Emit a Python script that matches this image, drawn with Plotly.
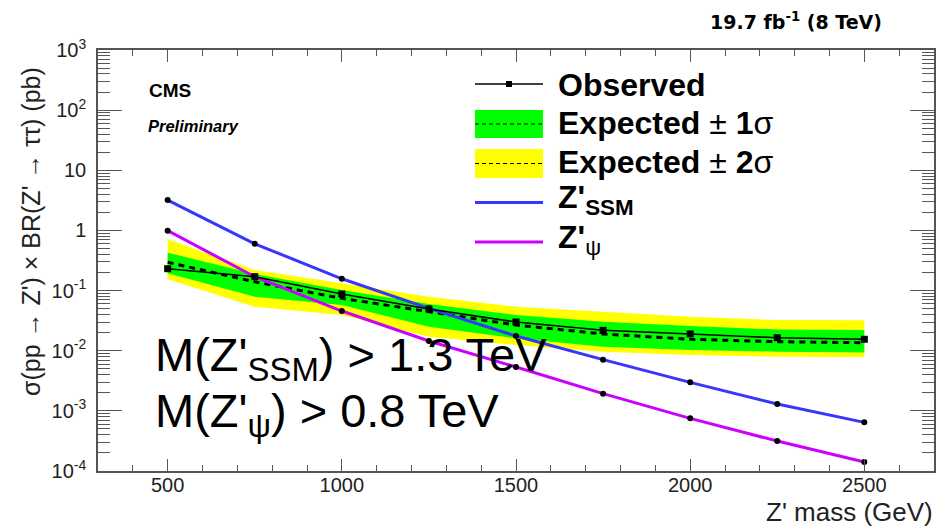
import plotly.graph_objects as go

# ---------------- data ----------------
mass = [500, 750, 1000, 1250, 1500, 1750, 2000, 2250, 2500]
observed = [0.231, 0.17, 0.0877, 0.0493, 0.030, 0.0218, 0.019, 0.01645, 0.0155]
expected = [0.295, 0.140, 0.0743, 0.0446, 0.0267, 0.019, 0.0155, 0.0141, 0.0136]
exp_p1 = [0.427, 0.188, 0.102, 0.0598, 0.0393, 0.0303, 0.0258, 0.0226, 0.0221]
exp_m1 = [0.194, 0.079, 0.0575, 0.0251, 0.0161, 0.01166, 0.0103, 0.00964, 0.0093]
exp_p2 = [0.71, 0.22, 0.132, 0.079, 0.054, 0.0446, 0.0368, 0.0324, 0.032]
exp_m2 = [0.154, 0.054, 0.0393, 0.0171, 0.0124, 0.00964, 0.0085, 0.00794, 0.0078]
z_ssm = [3.2, 0.60, 0.157, 0.0507, 0.01755, 0.0071, 0.00298, 0.0013, 0.000644]
z_psi = [0.99, 0.17, 0.0457, 0.0145, 0.00536, 0.00193, 0.00075, 0.000315, 0.000141]

x_major = [500, 1000, 1500, 2000, 2500]
x_minor = list(range(400, 2700, 100))
y_major = [1e-4, 1e-3, 1e-2, 1e-1, 1, 10, 1e2, 1e3]
y_major_text = ["10<sup>-4</sup>", "10<sup>-3</sup>", "10<sup>-2</sup>", "10<sup>-1</sup>",
                "1", "10", "10<sup>2</sup>", "10<sup>3</sup>"]
y_minor = [m * 10.0 ** e for e in range(-4, 3) for m in range(2, 10)]

legend_labels = ["<b>Observed</b>",
                 "<b>Expected</b> \u00b1 <b>1</b>\u03c3",
                 "<b>Expected</b> \u00b1 <b>2</b>\u03c3",
                 "<b>Z'<sub>SSM</sub></b>",
                 "<b>Z'</b><sub>\u03c8</sub>"]

FONT = "Liberation Sans, Arial, sans-serif"
BLUE = "#3636ff"
MAGENTA = "#cc00ff"
GREEN = "#00ff00"
YELLOW = "#ffff00"

W, H = 951, 530
L, R, T, B = 98, 17, 50, 59
PW, PH = W - L - R, H - T - B


def px(x):
    return (x - L) / PW


def py(y):
    return (H - B - y) / PH


fig = go.Figure()

# yellow band
fig.add_trace(go.Scatter(x=mass, y=exp_p2, mode="lines", line=dict(width=0, color=YELLOW),
                         showlegend=False, hoverinfo="skip"))
fig.add_trace(go.Scatter(x=mass, y=exp_m2, mode="lines", line=dict(width=0, color=YELLOW),
                         fill="tonexty", fillcolor=YELLOW, showlegend=False, hoverinfo="skip"))
# green band
fig.add_trace(go.Scatter(x=mass, y=exp_p1, mode="lines", line=dict(width=0, color=GREEN),
                         showlegend=False, hoverinfo="skip"))
fig.add_trace(go.Scatter(x=mass, y=exp_m1, mode="lines", line=dict(width=0, color=GREEN),
                         fill="tonexty", fillcolor=GREEN, showlegend=False, hoverinfo="skip"))
# expected
fig.add_trace(go.Scatter(x=mass, y=expected, mode="lines",
                         line=dict(color="black", width=3, dash="6px,5px"), showlegend=False))
# models
fig.add_trace(go.Scatter(x=mass, y=z_ssm, mode="lines+markers",
                         line=dict(color=BLUE, width=3),
                         marker=dict(color="black", size=6, symbol="circle"), showlegend=False))
fig.add_trace(go.Scatter(x=mass, y=z_psi, mode="lines+markers",
                         line=dict(color=MAGENTA, width=3),
                         marker=dict(color="black", size=6, symbol="circle"), showlegend=False))
# observed
fig.add_trace(go.Scatter(x=mass, y=observed, mode="lines+markers",
                         line=dict(color="black", width=1.5),
                         marker=dict(color="black", size=7, symbol="square"), showlegend=False))

shapes = []
annotations = []

# ---------------- manual legend ----------------
lx0, lx1, ltext = 475, 543, 556
# Observed
shapes.append(dict(type="line", xref="paper", yref="paper", x0=px(lx0), x1=px(lx1),
                   y0=py(84), y1=py(84), line=dict(color="black", width=1.5)))
shapes.append(dict(type="rect", xref="paper", yref="paper", x0=px(506), x1=px(512),
                   y0=py(87), y1=py(81), fillcolor="black", line=dict(width=0)))
# +-1 sigma
shapes.append(dict(type="rect", xref="paper", yref="paper", x0=px(lx0), x1=px(lx1),
                   y0=py(138), y1=py(110), fillcolor=GREEN, line=dict(width=0)))
shapes.append(dict(type="line", xref="paper", yref="paper", x0=px(lx0), x1=px(lx1),
                   y0=py(124), y1=py(124), line=dict(color="black", width=1, dash="4px,3px")))
# +-2 sigma
shapes.append(dict(type="rect", xref="paper", yref="paper", x0=px(lx0), x1=px(lx1),
                   y0=py(178), y1=py(149), fillcolor=YELLOW, line=dict(width=0)))
shapes.append(dict(type="line", xref="paper", yref="paper", x0=px(lx0), x1=px(lx1),
                   y0=py(163.5), y1=py(163.5), line=dict(color="black", width=1, dash="4px,3px")))
# SSM / psi
shapes.append(dict(type="line", xref="paper", yref="paper", x0=px(lx0), x1=px(lx1),
                   y0=py(202.5), y1=py(202.5), line=dict(color=BLUE, width=3)))
shapes.append(dict(type="line", xref="paper", yref="paper", x0=px(lx0), x1=px(lx1),
                   y0=py(242), y1=py(242), line=dict(color=MAGENTA, width=3)))

text_y = [85, 123, 162, 200, 240]
for lab, ty in zip(legend_labels, text_y):
    annotations.append(dict(xref="paper", yref="paper", x=px(ltext), y=py(ty),
                            xanchor="left", yanchor="middle", showarrow=False,
                            text=lab, font=dict(family=FONT, size=32, color="black")))

# ---------------- texts ----------------
annotations += [
    dict(xref="paper", yref="paper", x=px(147), y=py(90), xanchor="left", yanchor="middle",
         showarrow=False, text="<b>CMS</b>", font=dict(family=FONT, size=19, color="black")),
    dict(xref="paper", yref="paper", x=px(146), y=py(126), xanchor="left", yanchor="middle",
         showarrow=False, text="<b><i>Preliminary</i></b>",
         font=dict(family=FONT, size=16.5, color="black")),
    dict(xref="paper", yref="paper", x=px(884), y=py(21), xanchor="right", yanchor="middle",
         showarrow=False, text="<b>19.7 fb<sup>-1</sup> (8 TeV)</b>",
         font=dict(family="DejaVu Sans, sans-serif", size=19, color="black")),
    dict(xref="paper", yref="paper", x=px(153), y=py(358), xanchor="left", yanchor="middle",
         showarrow=False, text="M(Z'<sub>SSM</sub>) > 1.3 TeV",
         font=dict(family=FONT, size=47, color="black")),
    dict(xref="paper", yref="paper", x=px(153), y=py(414), xanchor="left", yanchor="middle",
         showarrow=False, text="M(Z'<sub>\u03c8</sub>) > 0.8 TeV",
         font=dict(family=FONT, size=47, color="black")),
    dict(xref="paper", yref="paper", x=px(935), y=py(512), xanchor="right", yanchor="middle",
         showarrow=False, text="Z' mass (GeV)",
         font=dict(family=FONT, size=26, color="#222222")),
    dict(xref="paper", yref="paper", x=px(31), y=py(232), xanchor="center", yanchor="middle",
         showarrow=False, textangle=-90,
         text="\u03c3(pp \u2192 Z') \u00d7 BR(Z' \u2192 \u03c4\u03c4) (pb)",
         font=dict(family=FONT, size=25, color="#222222")),
]

AX = "#555555"
fig.update_layout(
    width=W, height=H,
    margin=dict(l=L, r=R, t=T, b=B, pad=0),
    paper_bgcolor="white", plot_bgcolor="white",
    showlegend=False,
    shapes=shapes, annotations=annotations,
    xaxis=dict(range=[300, 2700], showgrid=False, zeroline=False,
               showline=True, linecolor=AX, linewidth=1.5, mirror="ticks",
               ticks="inside", ticklen=12, tickwidth=1, tickcolor=AX,
               tickmode="array", tickvals=x_major, ticktext=[str(v) for v in x_major],
               tickfont=dict(family=FONT, size=20, color="#222222"),
               ticklabelstandoff=-5,
               minor=dict(tickmode="array", tickvals=x_minor, ticks="inside",
                          ticklen=6, tickcolor=AX, tickwidth=1, showgrid=False)),
    yaxis=dict(type="log", range=[-4, 3], showgrid=False, zeroline=False,
               showline=True, linecolor=AX, linewidth=1.5, mirror="ticks",
               ticks="inside", ticklen=24, tickwidth=1, tickcolor=AX,
               tickmode="array", tickvals=y_major, ticktext=y_major_text,
               tickfont=dict(family=FONT, size=20, color="#222222"),
               ticklabelstandoff=6,
               minor=dict(tickmode="array", tickvals=y_minor, ticks="inside",
                          ticklen=12, tickcolor=AX, tickwidth=1, showgrid=False)),
)

fig.write_html("out.html")
